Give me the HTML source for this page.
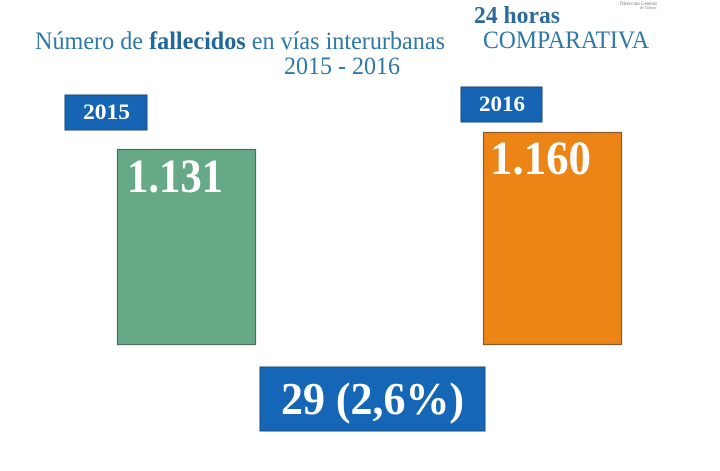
<!DOCTYPE html>
<html><head><meta charset="utf-8"><style>
html,body{margin:0;padding:0;background:#fff;}
svg{display:block;}
</style></head><body>
<svg width="720" height="471" viewBox="0 0 720 471" xmlns="http://www.w3.org/2000/svg" font-family="'Liberation Serif', serif">
<rect width="720" height="471" fill="#fff"/>
<text x="620" y="5" font-size="5" fill="#777">Dirección General</text>
<text x="640" y="9" font-size="4" fill="#777">de Tráfico</text>
<text x="474" y="23" font-size="24" font-weight="bold" fill="#2c6a9c" textLength="86" lengthAdjust="spacingAndGlyphs">24 horas</text>
<text x="35" y="49" font-size="25" fill="#2f78a8" textLength="410" lengthAdjust="spacingAndGlyphs">Número de <tspan font-weight="bold" fill="#24689a">fallecidos</tspan> en vías interurbanas</text>
<text x="483" y="48" font-size="25" fill="#2f78a8" textLength="166" lengthAdjust="spacingAndGlyphs">COMPARATIVA</text>
<text x="284" y="74" font-size="25" fill="#2f78a8" textLength="116" lengthAdjust="spacingAndGlyphs">2015 - 2016</text>
<rect x="65" y="95" width="82" height="35" fill="#1565b4" stroke="#1a4c80" stroke-width="1"/>
<text x="83" y="119" font-size="22" font-weight="bold" fill="#fff" textLength="47" lengthAdjust="spacingAndGlyphs">2015</text>
<rect x="461" y="87" width="81" height="35" fill="#1565b4" stroke="#1a4c80" stroke-width="1"/>
<text x="479" y="111" font-size="22" font-weight="bold" fill="#fff" textLength="46" lengthAdjust="spacingAndGlyphs">2016</text>
<rect x="117.5" y="149.5" width="138" height="195" fill="#66a986" stroke="#4d6e5c" stroke-width="1.2"/>
<text x="127" y="192" font-size="48" font-weight="bold" fill="#fff" textLength="96" lengthAdjust="spacingAndGlyphs">1.131</text>
<rect x="483.5" y="132.5" width="138" height="212" fill="#ec8516" stroke="#8a5a2a" stroke-width="1.2"/>
<text x="490" y="174" font-size="48" font-weight="bold" fill="#fff" textLength="101" lengthAdjust="spacingAndGlyphs">1.160</text>
<rect x="260" y="367" width="225" height="64" fill="#1566b6" stroke="#1a4c80" stroke-width="1"/>
<text x="281" y="414" font-size="46" font-weight="bold" fill="#fff" textLength="183" lengthAdjust="spacingAndGlyphs">29 (2,6%)</text>
</svg>
</body></html>
